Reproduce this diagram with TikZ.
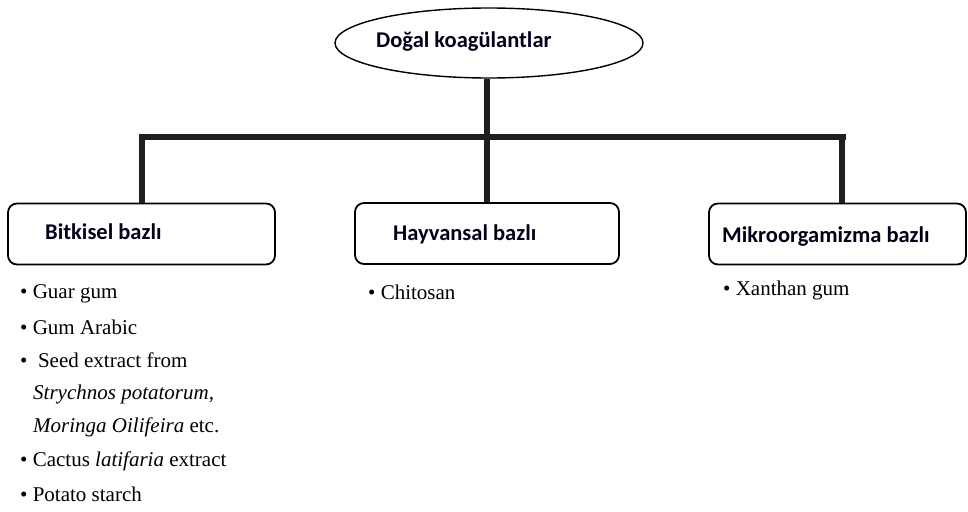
\documentclass[tikz,border=0pt]{standalone}
\usepackage{fontspec}
\setmainfont{Liberation Serif}
\newfontfamily\lblfont{Carlito}
\usetikzlibrary{shapes.geometric}
\begin{document}
\begin{tikzpicture}[x=1pt,y=-1pt,
  catbox/.style={draw, line width=1.8pt, rounded corners=9pt, minimum height=61pt, inner sep=0pt},
  lbl/.style={font=\lblfont\bfseries\fontsize{22.5}{26}\selectfont, text=black!90!blue, anchor=west, inner sep=0pt},
  item/.style={font=\fontsize{21}{24}\selectfont, anchor=west, inner sep=0pt},
  conn/.style={line width=5.5pt, draw=black!88}]
\useasboundingbox (0,0) rectangle (968,511);
% root
\node[draw, ellipse, line width=1.4pt, minimum width=308pt, minimum height=70pt, inner sep=0pt] (root) at (489,43) {};
\node[lbl] (roottxt) at (376,42) {Doğal koagülantlar};
% category boxes
\node[catbox, minimum width=267pt] (b1) at (141.5,234) {};
\node[catbox, minimum width=264pt] (b2) at (487,233.5) {};
\node[catbox, minimum width=257pt] (b3) at (837.5,234) {};
\node[lbl] (t1) at (45,232) {Bitkisel bazlı};
\node[lbl] (t2) at (393,234) {Hayvansal bazlı};
\node[lbl] (t3) at (722,237) {Mikroorgamizma bazlı};
% connectors
\coordinate (hub) at (487,137);
\coordinate (hl) at (139.5,137);
\coordinate (hr) at (845.5,137);
\draw[conn] (root.south -| hub) -- (hub);
\draw[conn] (hl) -- (hr);
\draw[conn] ([yshift=2.75pt]hl -| 142,0) -- (b1.north -| 142,0);
\draw[conn] (hub) -- (b2.north -| hub);
\draw[conn] ([yshift=2.75pt]hr -| 842,0) -- (b3.north -| 842,0);
% lists
\node[item] (l1) at (20,294) {\textbullet\ Guar gum};
\node[item] (l2) at (20,327) {\textbullet\ Gum Arabic};
\node[item] (l3) at (20,360) {\textbullet\ \ Seed extract from};
\node[item] (l4) at (33,394) {\textit{Strychnos potatorum,}};
\node[item] (l5) at (33,427) {\textit{Moringa Oilifeira} etc.};
\node[item] (l6) at (20,461) {\textbullet\ Cactus \textit{latifaria} extract};
\node[item] (l7) at (20,494) {\textbullet\ Potato starch};
\node[item] (c1) at (368,292) {\textbullet\ Chitosan};
\node[item] (m1) at (723,290) {\textbullet\ Xanthan gum};
\end{tikzpicture}
\end{document}
